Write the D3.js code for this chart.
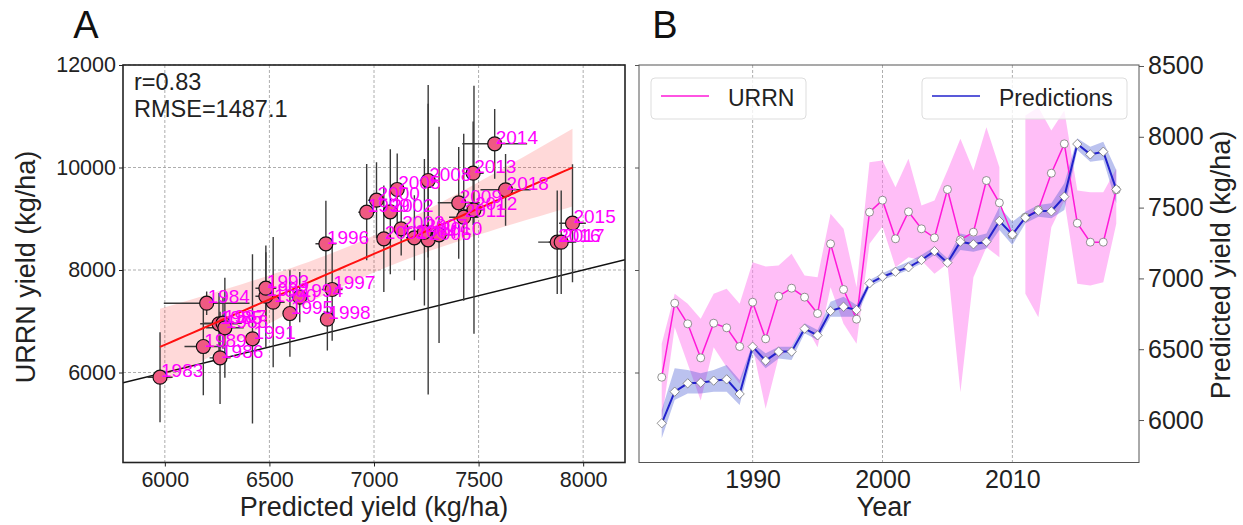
<!DOCTYPE html>
<html>
<head>
<meta charset="utf-8">
<script src="https://cdn.jsdelivr.net/npm/d3@7"></script>
<style>
  body { margin: 0; background: #fff; }
  svg text { font-family: "Liberation Sans", Arial, sans-serif; }
</style>
</head>
<body>
<div id="chart"></div>
<script>
// years 1983-2018
var years = [1983, 1984, 1985, 1986, 1987, 1988, 1989, 1990, 1991, 1992,
             1993, 1994, 1995, 1996, 1997, 1998, 1999, 2000, 2001, 2002,
             2003, 2004, 2005, 2006, 2007, 2008, 2009, 2010, 2011, 2012,
             2013, 2014, 2015, 2016, 2017, 2018];
// observed URRN yield (kg/ha)
var urrn = [5908, 7352, 6950, 6286, 6962, 6872, 6507, 7372, 6657, 7489,
            7645, 7470, 7151, 8511, 7620, 7040, 9128, 9362, 8609, 9136,
            8804, 8628, 9571, 8589, 8738, 9746, 9311, 8687, 9030, 9174,
            9889, 10462, 8913, 8543, 8543, 9565];
// predicted yield (kg/ha)
var pred = [5977, 6200, 6259, 6264, 6278, 6287, 6184, 6518, 6419, 6483,
            6483, 6645, 6598, 6770, 6800, 6777, 6965, 7012, 7047, 7078,
            7130, 7193, 7111, 7259, 7241, 7259, 7405, 7311, 7429, 7478,
            7474, 7577, 7949, 7876, 7895, 7629];
// error bars of panel A
var urrnSd = [878, 230, 600, 900, 500, 975, 950, 1270, 1650, 990,
              700, 490, 845, 840, 1000, 610, 940, 740, 1040, 1220,
              520, 830, 700, 3020, 1430, 1500, 1090, 2110, 1630, 2420,
              1010, 680, 1150, 1010, 1010, 700];
var predSd = [60, 205, 90, 50, 90, 90, 90, 55, 30, 50,
              50, 40, 30, 50, 50, 30, 40, 40, 30, 30,
              40, 40, 30, 40, 70, 40, 100, 70, 70, 50,
              50, 155, 64, 91, 60, 120];
// bands of panel B
var urrnLo = [5063, 6885, 6170, 5454, 6494, 6104, 5780, 6494, 5292, 6299,
              6494, 6950, 6494, 7665, 6950, 6560, 8511, 8850, 8055, 8250,
              8185, 7926, 8120, 5616, 7860, 8445, 8250, null, 7535, 7080,
              8835, 9356, 7730, 7698, 7763, 8901];
var urrnHi = [6560, 7535, 7340, 7048, 7535, 7633, 7340, 8152, 8068, 8088,
              8316, 7893, 7860, 9097, 8804, 7665, 10104, 10137, 9616, 10170,
              9259, 9356, 9941, 10559, 9941, 10787, 10006, null, 11015, 11177,
              10722, 11112, 9551, 9518, 9518, 9974];
var predLo = [5871, 6141, 6188, 6188, 6200, 6200, 6106, 6471, 6365, 6435,
              6424, 6612, 6565, 6730, 6730, 6730, 6941, 6989, 7024, 7059,
              7106, 7165, 7083, 7201, 7189, 7212, 7342, 7236, 7389, 7436,
              7424, 7483, 7907, 7824, 7836, 7530];
var predHi = [6071, 6365, 6353, 6330, 6353, 6388, 6282, 6541, 6471, 6518,
              6518, 6683, 6636, 6836, 6871, 6812, 6989, 7036, 7078, 7118,
              7165, 7224, 7142, 7318, 7295, 7318, 7506, 7400, 7471, 7518,
              7530, 7672, 7989, 7930, 7965, 7766];

var xTicksA = [6000, 6500, 7000, 7500, 8000];
var yTicksA = [6000, 8000, 10000, 12000];
var xTicksB = [1990, 2000, 2010];
var yTicksB = [6000, 6500, 7000, 7500, 8000, 8500];
var statsText = ["r=0.83", "RMSE=1487.1"];

var svg = d3.select('#chart').append('svg')
    .attr('width', 1243).attr('height', 525);

// ---------------- Panel A ----------------
var pTop = 65, pBot = 462.5;
var xA = d3.scaleLinear().domain([5800, 8200]).range([123, 625]);
var yA = d3.scaleLinear().domain([4244, 12000]).range([pBot, pTop]);

var gA = svg.append('g');
gA.selectAll('.gx').data(xTicksA).enter().append('line')
    .attr('x1', function (d) { return xA(d); }).attr('x2', function (d) { return xA(d); })
    .attr('y1', pTop).attr('y2', pBot)
    .attr('stroke', '#999').attr('stroke-width', 0.8).attr('stroke-dasharray', '3,2');
gA.selectAll('.gy').data(yTicksA).enter().append('line')
    .attr('x1', 123).attr('x2', 625)
    .attr('y1', function (d) { return yA(d); }).attr('y2', function (d) { return yA(d); })
    .attr('stroke', '#999').attr('stroke-width', 0.8).attr('stroke-dasharray', '3,2');

svg.append('clipPath').attr('id', 'clipA').append('rect')
    .attr('x', 123).attr('y', pTop).attr('width', 502).attr('height', pBot - pTop);
var plotA = gA.append('g').attr('clip-path', 'url(#clipA)');

// 1:1 line
plotA.append('line')
    .attr('x1', xA(5800)).attr('y1', yA(5800)).attr('x2', xA(8200)).attr('y2', yA(8200))
    .attr('stroke', '#111').attr('stroke-width', 1.5);

// regression with confidence band
var n = pred.length;
var xm = d3.mean(pred), ym = d3.mean(urrn);
var sxx = d3.sum(pred, function (d) { return (d - xm) * (d - xm); });
var sxy = d3.sum(pred, function (d, i) { return (d - xm) * (urrn[i] - ym); });
var slope = sxy / sxx, icpt = ym - slope * xm;
var sse = d3.sum(pred, function (d, i) { var r = urrn[i] - (icpt + slope * d); return r * r; });
var se = Math.sqrt(sse / (n - 2));
var xs = d3.range(0, 51).map(function (k) { return d3.min(pred) + k * (d3.max(pred) - d3.min(pred)) / 50; });
var ci = xs.map(function (x) {
  var yh = icpt + slope * x;
  var h = 3.3 * se * Math.sqrt(1 / n + (x - xm) * (x - xm) / sxx);
  return { x: x, y: yh, lo: yh - h, hi: yh + h };
});
plotA.append('path').datum(ci)
    .attr('d', d3.area().x(function (d) { return xA(d.x); })
        .y0(function (d) { return yA(d.lo); }).y1(function (d) { return yA(d.hi); }))
    .attr('fill', '#ff0000').attr('fill-opacity', 0.15);

// error bars
var idx = d3.range(n);
plotA.selectAll('.ev').data(idx).enter().append('line')
    .attr('x1', function (i) { return xA(pred[i]); }).attr('x2', function (i) { return xA(pred[i]); })
    .attr('y1', function (i) { return yA(urrn[i] - urrnSd[i]); })
    .attr('y2', function (i) { return yA(urrn[i] + urrnSd[i]); })
    .attr('stroke', '#3a3a3a').attr('stroke-width', 1.4);
plotA.selectAll('.eh').data(idx).enter().append('line')
    .attr('x1', function (i) { return xA(pred[i] - predSd[i]); })
    .attr('x2', function (i) { return xA(pred[i] + predSd[i]); })
    .attr('y1', function (i) { return yA(urrn[i]); }).attr('y2', function (i) { return yA(urrn[i]); })
    .attr('stroke', '#3a3a3a').attr('stroke-width', 1.4);

plotA.selectAll('.pt').data(idx).enter().append('circle')
    .attr('cx', function (i) { return xA(pred[i]); })
    .attr('cy', function (i) { return yA(urrn[i]); })
    .attr('r', 7)
    .attr('fill', '#ef5a82').attr('stroke', '#111').attr('stroke-width', 1.2);

plotA.append('path').datum(ci)
    .attr('d', d3.line().x(function (d) { return xA(d.x); }).y(function (d) { return yA(d.y); }))
    .attr('fill', 'none').attr('stroke', '#ff1010').attr('stroke-width', 2);

gA.selectAll('.lbl').data(idx).enter().append('text')
    .attr('x', function (i) { return xA(pred[i]) + 1; })
    .attr('y', function (i) { return yA(urrn[i]); })
    .attr('fill', '#ff00ff').attr('font-size', 19)
    .text(function (i) { return years[i]; });

gA.selectAll('.st').data(statsText).enter().append('text')
    .attr('x', 134).attr('y', function (d, i) { return 90 + i * 27; })
    .attr('font-size', 23.5).attr('fill', '#222')
    .text(function (d) { return d; });

gA.append('rect').attr('x', 123).attr('y', pTop).attr('width', 502).attr('height', pBot - pTop)
    .attr('fill', 'none').attr('stroke', '#222').attr('stroke-width', 1.6);

var axAx = gA.append('g').attr('transform', 'translate(0,' + pBot + ')')
    .call(d3.axisBottom(xA).tickValues(xTicksA).tickSize(4).tickPadding(5).tickFormat(d3.format('d')));
var axAy = gA.append('g').attr('transform', 'translate(123,0)')
    .call(d3.axisLeft(yA).tickValues(yTicksA).tickSize(4).tickPadding(3).tickFormat(d3.format('d')));
[axAx, axAy].forEach(function (a) {
  a.select('.domain').remove();
  a.selectAll('text').attr('font-size', 21.5).attr('fill', '#222');
  a.selectAll('line').attr('stroke', '#222');
});

gA.append('text').attr('x', 374).attr('y', 516).attr('text-anchor', 'middle')
    .attr('font-size', 27).attr('fill', '#222').text('Predicted yield (kg/ha)');
gA.append('text').attr('transform', 'translate(35,267) rotate(-90)').attr('text-anchor', 'middle')
    .attr('font-size', 27).attr('fill', '#222').text('URRN yield (kg/ha)');
gA.append('text').attr('x', 86).attr('y', 38).attr('text-anchor', 'middle')
    .attr('font-size', 38).attr('fill', '#111').text('A');

// ---------------- Panel B ----------------
var xB = d3.scaleLinear().domain([1981.25, 2019.75]).range([639, 1139]);
var yBL = d3.scaleLinear().domain([4244, 12000]).range([pBot, pTop]);
var yBR = d3.scaleLinear().domain([5700, 8507]).range([pBot, pTop]);
var gB = svg.append('g');

gB.selectAll('.gx').data(xTicksB).enter().append('line')
    .attr('x1', function (d) { return xB(d); }).attr('x2', function (d) { return xB(d); })
    .attr('y1', pTop).attr('y2', pBot)
    .attr('stroke', '#999').attr('stroke-width', 0.8).attr('stroke-dasharray', '3,2');

svg.append('clipPath').attr('id', 'clipB').append('rect')
    .attr('x', 639).attr('y', pTop).attr('width', 500).attr('height', pBot - pTop);
var plotB = gB.append('g').attr('clip-path', 'url(#clipB)');

plotB.append('path').datum(idx)
    .attr('d', d3.area().defined(function (i) { return urrnLo[i] != null; })
        .x(function (i) { return xB(years[i]); })
        .y0(function (i) { return yBL(urrnLo[i]); }).y1(function (i) { return yBL(urrnHi[i]); }))
    .attr('fill', '#ff7ef0').attr('fill-opacity', 0.5);
plotB.append('path').datum(idx)
    .attr('d', d3.area().x(function (i) { return xB(years[i]); })
        .y0(function (i) { return yBR(predLo[i]); }).y1(function (i) { return yBR(predHi[i]); }))
    .attr('fill', '#3c50d2').attr('fill-opacity', 0.35);

plotB.append('path').datum(idx)
    .attr('d', d3.line().x(function (i) { return xB(years[i]); }).y(function (i) { return yBL(urrn[i]); }))
    .attr('fill', 'none').attr('stroke', '#ff1ad9').attr('stroke-width', 1.5);
plotB.selectAll('.uc').data(idx).enter().append('circle')
    .attr('cx', function (i) { return xB(years[i]); })
    .attr('cy', function (i) { return yBL(urrn[i]); })
    .attr('r', 4).attr('fill', '#fff').attr('stroke', '#777').attr('stroke-width', 0.8);

plotB.append('path').datum(idx)
    .attr('d', d3.line().x(function (i) { return xB(years[i]); }).y(function (i) { return yBR(pred[i]); }))
    .attr('fill', 'none').attr('stroke', '#2222cc').attr('stroke-width', 2);
plotB.selectAll('.pd').data(idx).enter().append('path')
    .attr('d', d3.symbol().type(d3.symbolDiamond2).size(55))
    .attr('transform', function (i) { return 'translate(' + xB(years[i]) + ',' + yBR(pred[i]) + ')'; })
    .attr('fill', '#fff').attr('stroke', '#777').attr('stroke-width', 0.8);

gB.append('rect').attr('x', 639).attr('y', pTop).attr('width', 500).attr('height', pBot - pTop)
    .attr('fill', 'none').attr('stroke', '#555').attr('stroke-width', 1);

var axBx = gB.append('g').attr('transform', 'translate(0,' + pBot + ')')
    .call(d3.axisBottom(xB).tickValues(xTicksB).tickSize(0).tickPadding(8).tickFormat(d3.format('d')));
var axBl = gB.append('g').attr('transform', 'translate(639,0)')
    .call(d3.axisLeft(yBL).tickValues(yTicksA).tickSize(4).tickFormat(''));
var axBr = gB.append('g').attr('transform', 'translate(1139,0)')
    .call(d3.axisRight(yBR).tickValues(yTicksB).tickSize(5).tickPadding(4).tickFormat(d3.format('d')));
[axBx, axBl, axBr].forEach(function (a) {
  a.select('.domain').remove();
  a.selectAll('text').attr('font-size', 25).attr('fill', '#222');
  a.selectAll('line').attr('stroke', '#555');
});

gB.append('text').attr('x', 884).attr('y', 516).attr('text-anchor', 'middle')
    .attr('font-size', 27).attr('fill', '#222').text('Year');
gB.append('text').attr('transform', 'translate(1211,265) rotate(-90)').attr('text-anchor', 'middle')
    .attr('font-size', 27).attr('fill', '#222').attr('dominant-baseline', 'hanging')
    .text('Predicted yield (kg/ha)');
gB.append('text').attr('x', 665).attr('y', 38).attr('text-anchor', 'middle')
    .attr('font-size', 38).attr('fill', '#111').text('B');

// legends
function legend(x, w, color, label) {
  var g = gB.append('g');
  g.append('rect').attr('x', x).attr('y', 78).attr('width', w).attr('height', 41).attr('rx', 4)
      .attr('fill', '#fff').attr('fill-opacity', 0.8).attr('stroke', '#ddd');
  g.append('line').attr('x1', x + 10).attr('x2', x + 58).attr('y1', 96).attr('y2', 96)
      .attr('stroke', color).attr('stroke-width', 1.5);
  g.append('text').attr('x', x + 77).attr('y', 106).attr('font-size', 23).attr('fill', '#222').text(label);
}
legend(651, 155, '#ff1ad9', 'URRN');
legend(922, 205, '#2222cc', 'Predictions');
</script>
</body>
</html>
